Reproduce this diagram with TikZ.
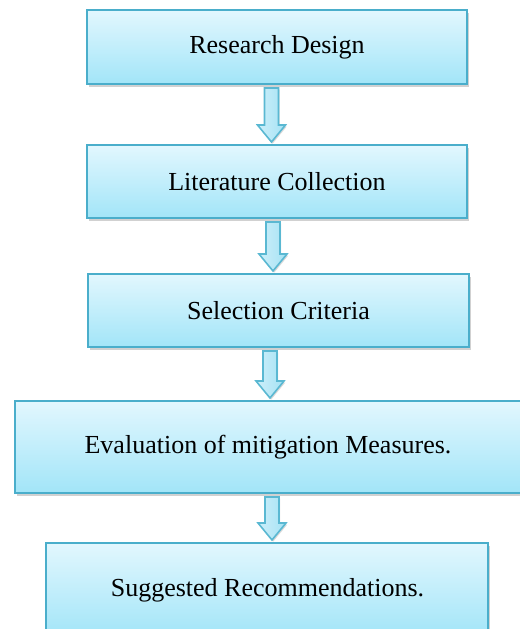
\documentclass[tikz,border=0pt]{standalone}
\usepackage{fontspec}
\setmainfont{Liberation Serif}
\usetikzlibrary{calc,shadows}
\definecolor{boxtop}{HTML}{E2F7FE}
\definecolor{boxbot}{HTML}{A2E5F8}
\definecolor{boxline}{HTML}{4AAECB}
\definecolor{arrline}{HTML}{5AB8D2}
\definecolor{arrl}{HTML}{CDEFFA}
\definecolor{arrr}{HTML}{A5E2F4}
\tikzset{
  stepbox/.style={draw=boxline, line width=1pt, top color=boxtop, bottom color=boxbot,
    rectangle, inner sep=0pt, font=\fontsize{13}{15}\selectfont,
    drop shadow={shadow xshift=1pt, shadow yshift=-1.5pt, opacity=0.3, fill=black!60}},
  blockarrow/.style={draw=arrline, line width=0.8pt, left color=arrl, right color=arrr,
    line join=miter,
    drop shadow={shadow xshift=0.6pt, shadow yshift=-0.8pt, opacity=0.25, fill=black!60}}
}
\newcommand{\blockarr}[3]{%
  \path[blockarrow] let \p1=(#1.south), \p2=(#2.north), \p3=(#3,0) in
    (\x3-3.5pt,\y1-1.5pt) -- (\x3+3.5pt,\y1-1.5pt) -- (\x3+3.5pt,\y2+9.5pt)
    -- (\x3+7pt,\y2+9.5pt) -- (\x3,\y2+1pt) -- (\x3-7pt,\y2+9.5pt)
    -- (\x3-3.5pt,\y2+9.5pt) -- cycle;}
\begin{document}
\begin{tikzpicture}[x=0.5pt,y=-0.5pt]
\useasboundingbox (0,0) rectangle (520,629);
\node[stepbox, minimum width=190pt, minimum height=37pt] (b1) at (277,47) {Research Design};
\node[stepbox, minimum width=190pt, minimum height=36.5pt] (b2) at (277,181.5) {Literature Collection};
\node[stepbox, minimum width=190.5pt, minimum height=36.5pt] (b3) at (278.5,310.5) {Selection Criteria};
\node[stepbox, minimum width=253pt, minimum height=46pt] (b4) at (268,447) {Evaluation of mitigation Measures.};
\node[stepbox, minimum width=221pt, minimum height=47pt] (b5) at (267.5,590) {Suggested Recommendations.};
\blockarr{b1}{b2}{271.5}
\blockarr{b2}{b3}{273}
\blockarr{b3}{b4}{270}
\blockarr{b4}{b5}{272}
\end{tikzpicture}
\end{document}
